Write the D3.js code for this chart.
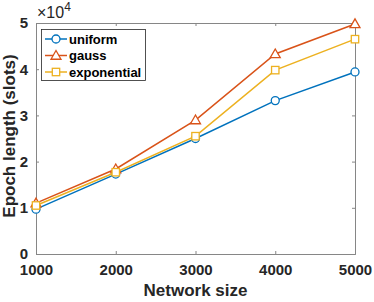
<!DOCTYPE html>
<html>
<head>
<meta charset="utf-8">
<script src="https://cdn.jsdelivr.net/npm/d3@7"></script>
<style>
  body { margin: 0; background: #fff; }
  text { font-family: "Liberation Sans", Arial, sans-serif; }
</style>
</head>
<body>
<svg id="chart"></svg>
<script>
const width = 374;
const height = 302;
const sizes = [1000, 2000, 3000, 4000, 5000];
const uniform = [0.97, 1.73, 2.50, 3.32, 3.94];
const gauss = [1.10, 1.84, 2.90, 4.33, 4.98];
const exponential = [1.05, 1.77, 2.55, 3.98, 4.65];
const yTicks = [0, 1, 2, 3, 4, 5];

const series = [
  { name: "uniform", values: uniform, color: "#0072BD", marker: "circle" },
  { name: "gauss", values: gauss, color: "#D95319", marker: "triangle" },
  { name: "exponential", values: exponential, color: "#EDB120", marker: "square" }
];

const margin = { left: 36, right: 19, top: 23, bottom: 48 };

const svg = d3.select("#chart")
    .attr("width", width)
    .attr("height", height);

const x = d3.scaleLinear()
    .domain([1000, 5000])
    .range([margin.left, width - margin.right]);

const y = d3.scaleLinear()
    .domain([0, 5])
    .range([height - margin.bottom, margin.top]);

const axisColor = "#868686";

// Axes (MATLAB style: inward ticks, box)
const xAxis = svg.append("g")
    .attr("transform", `translate(0,${y(0)})`)
    .call(d3.axisBottom(x).tickValues(sizes).tickSize(-3).tickPadding(10).tickFormat(d3.format("d")));
const xTop = svg.append("g")
    .attr("transform", `translate(0,${y(5)})`)
    .call(d3.axisTop(x).tickValues(sizes).tickSize(-3).tickFormat(""));
const yAxis = svg.append("g")
    .attr("transform", `translate(${x(1000)},0)`)
    .call(d3.axisLeft(y).tickValues(yTicks).tickSize(-3).tickPadding(8).tickFormat(d3.format("d")));
const yRight = svg.append("g")
    .attr("transform", `translate(${x(5000)},0)`)
    .call(d3.axisRight(y).tickValues(yTicks).tickSize(-3).tickFormat(""));

[xAxis, xTop, yAxis, yRight].forEach(g => {
  g.select(".domain").attr("stroke", axisColor).attr("stroke-width", 1);
  g.selectAll(".tick line").attr("stroke", axisColor);
  g.selectAll(".tick text")
      .attr("fill", "#262626")
      .style("font-size", "15px")
      .style("font-weight", "bold")
      .style("font-family", "'Liberation Sans', Arial, sans-serif");
});
xAxis.selectAll(".tick text").attr("dy", "0.75em");

// Exponent label
const expo = svg.append("text")
    .attr("x", x(1000) + 1)
    .attr("y", 18)
    .attr("fill", "#262626")
    .style("font-size", "16px");
expo.append("tspan").text("\u00d710");
expo.append("tspan").attr("dy", -7).style("font-size", "12px").text("4");

// Axis labels
svg.append("text")
    .attr("x", (x(1000) + x(5000)) / 2)
    .attr("y", 296)
    .attr("text-anchor", "middle")
    .attr("fill", "#262626")
    .style("font-size", "17px")
    .style("font-weight", "bold")
    .text("Network size");

svg.append("text")
    .attr("transform", `translate(9,136) rotate(-90)`)
    .attr("text-anchor", "middle")
    .attr("dy", "0.35em")
    .attr("fill", "#262626")
    .style("font-size", "17px")
    .style("font-weight", "bold")
    .text("Epoch length (slots)");

// Markers
function drawMarker(g, type, cx, cy, color) {
  if (type === "circle") {
    g.append("circle").attr("cx", cx).attr("cy", cy).attr("r", 4)
        .attr("fill", "#fff").attr("stroke", color).attr("stroke-width", 1.3);
  } else if (type === "triangle") {
    const s = 5;
    g.append("path")
        .attr("d", `M${cx},${cy - s}L${cx + s},${cy + s * 0.75}L${cx - s},${cy + s * 0.75}Z`)
        .attr("fill", "#fff").attr("stroke", color).attr("stroke-width", 1.3);
  } else {
    g.append("rect").attr("x", cx - 3.7).attr("y", cy - 3.7).attr("width", 7.4).attr("height", 7.4)
        .attr("fill", "#fff").attr("stroke", color).attr("stroke-width", 1.3);
  }
}

const line = d3.line()
    .x((d, i) => x(sizes[i]))
    .y(d => y(d));

series.forEach(s => {
  const g = svg.append("g");
  g.append("path")
      .datum(s.values)
      .attr("d", line)
      .attr("fill", "none")
      .attr("stroke", s.color)
      .attr("stroke-width", 1.5);
  s.values.forEach((v, i) => drawMarker(g, s.marker, x(sizes[i]), y(v), s.color));
});

// Legend
const legend = svg.append("g");
legend.append("rect")
    .attr("x", 41.5).attr("y", 29.5)
    .attr("width", 104).attr("height", 51)
    .attr("fill", "#fff").attr("stroke", "#262626").attr("stroke-width", 0.8);

series.forEach((s, i) => {
  const ly = 39 + i * 16.5;
  legend.append("line")
      .attr("x1", 45).attr("x2", 67).attr("y1", ly).attr("y2", ly)
      .attr("stroke", s.color).attr("stroke-width", 1.5);
  drawMarker(legend, s.marker, 56, ly, s.color);
  legend.append("text")
      .attr("x", 69).attr("y", ly)
      .attr("dy", "0.35em")
      .attr("fill", "#000")
      .style("font-size", "13px")
      .style("font-weight", "bold")
      .text(s.name);
});
</script>
</body>
</html>
